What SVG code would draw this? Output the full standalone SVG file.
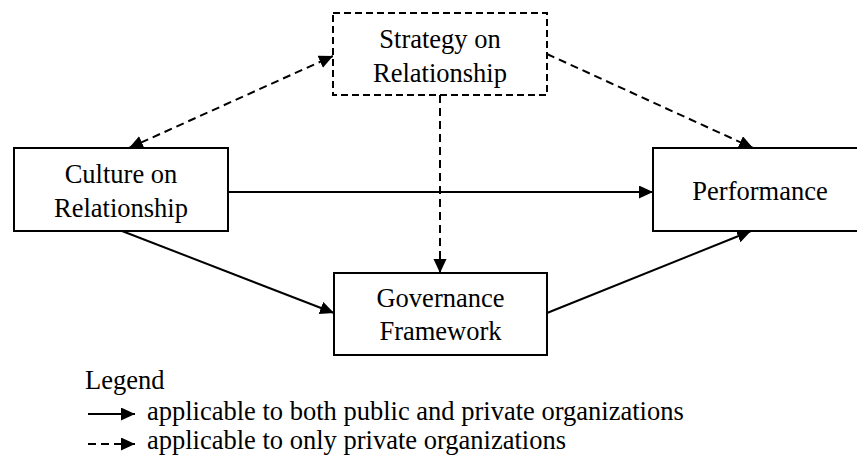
<svg xmlns="http://www.w3.org/2000/svg" width="857" height="457" viewBox="0 0 857 457">
<style>
  text { font-family: 'Liberation Serif', 'Tinos', 'Times New Roman', 'DejaVu Serif', serif; font-size: 26.5px; fill: #000; }
  .box { fill: #fff; stroke: #000; stroke-width: 2; }
  .dbox { fill: #fff; stroke: #000; stroke-width: 2; stroke-dasharray: 7 4; }
  .c { text-anchor: middle; }
  .solid { stroke: #000; stroke-width: 2; fill: none; }
  .dash { stroke: #000; stroke-width: 2; fill: none; stroke-dasharray: 8 5; }
</style>
<defs>
  <marker id="ah" markerUnits="userSpaceOnUse" markerWidth="15" markerHeight="14" refX="14" refY="6.5" orient="auto-start-reverse" viewBox="0 0 15 14">
    <path d="M0,0 L14,6.5 L0,13 z" fill="#000"/>
  </marker>
</defs>
<rect width="857" height="457" fill="#fff"/>
<g id="connectors">
  <line class="solid" x1="228" y1="192" x2="653" y2="192" marker-end="url(#ah)"/>
  <line class="solid" x1="122" y1="231" x2="334" y2="313" marker-end="url(#ah)"/>
  <line class="solid" x1="547" y1="313" x2="751" y2="231" marker-end="url(#ah)"/>
  <line class="dash" x1="440" y1="95" x2="440" y2="273" marker-end="url(#ah)"/>
  <line class="dash" x1="547" y1="54" x2="753" y2="148" marker-end="url(#ah)"/>
  <line class="dash" x1="129" y1="148" x2="333" y2="56" marker-start="url(#ah)" marker-end="url(#ah)"/>
</g>
<g id="strategy">
  <rect class="dbox" x="333" y="13" width="214" height="82"/>
  <text class="c" x="440" y="48" font-family="Liberation Serif, serif">Strategy on</text>
  <text class="c" x="440" y="82" font-family="Liberation Serif, serif">Relationship</text>
</g>
<g id="culture">
  <rect class="box" x="14" y="148" width="214" height="83"/>
  <text class="c" x="121" y="183">Culture on</text>
  <text class="c" x="121" y="217">Relationship</text>
</g>
<g id="performance">
  <rect class="box" x="653" y="148" width="214" height="83"/>
  <text class="c" x="760" y="200">Performance</text>
</g>
<g id="governance">
  <rect class="box" x="334" y="273" width="213" height="82"/>
  <text class="c" x="440.5" y="307">Governance</text>
  <text class="c" x="440.5" y="340">Framework</text>
</g>
<g id="legend">
  <text x="85" y="389">Legend</text>
  <line class="solid" x1="88" y1="414" x2="135" y2="414" marker-end="url(#ah)"/>
  <text x="147" y="420">applicable to both public and private organizations</text>
  <line class="dash" x1="88" y1="444" x2="135" y2="444" marker-end="url(#ah)"/>
  <text x="147" y="449">applicable to only private organizations</text>
</g>
</svg>
